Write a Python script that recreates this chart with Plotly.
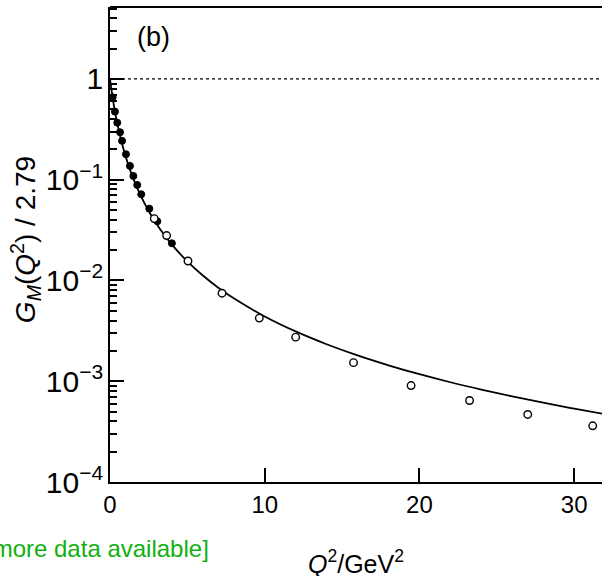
import plotly.graph_objects as go

# Filled points (low Q^2 data)
q2_filled = [0.17, 0.32, 0.47, 0.65, 0.78, 1.03, 1.29, 1.51, 1.76, 2.02, 2.54, 3.06, 4.0]
gm_filled = [0.658, 0.474, 0.368, 0.296, 0.243, 0.179, 0.137, 0.109, 0.0888, 0.0717, 0.0516, 0.0387, 0.0234]

# Open circles (high Q^2 data)
q2_open = [2.86, 3.66, 5.04, 7.24, 9.65, 12.0, 15.74, 19.46, 23.24, 27.0, 31.2]
gm_open = [0.0411, 0.0279, 0.0156, 0.00748, 0.00423, 0.00274, 0.00153, 0.000906, 0.000644, 0.000468, 0.000361]

# Fitted curve
q2_curve = [0, 0.1, 0.2, 0.3, 0.4, 0.5, 0.75, 1.0, 1.25, 1.5, 2.0, 2.5, 3.0, 3.5, 4.0, 5.0, 6.0,
            7.0, 8.0, 10, 12, 14, 16, 18, 20, 22, 24, 26, 28, 30, 32]
gm_curve = [1.0, 0.7684, 0.6087, 0.4942, 0.4091, 0.3443, 0.2365, 0.1724, 0.1312, 0.1032, 0.06864,
            0.04892, 0.03662, 0.02844, 0.02272, 0.01546, 0.01120, 0.008480, 0.006645, 0.004395,
            0.003121, 0.002330, 0.001805, 0.001440, 0.001175, 0.000977, 0.000826, 0.000707,
            0.000612, 0.000535, 0.000471]

ref_x = [0, 32]
ref_y = [1.0, 1.0]

X_RANGE = [0, 31.8]
Y_RANGE = [-4, 0.714]
FONT = "Liberation Sans, Arial, Helvetica, sans-serif"

fig = go.Figure()
fig.add_trace(go.Scatter(x=ref_x, y=ref_y, mode="lines",
                         line=dict(color="black", width=1.3, dash="3px,3px"), showlegend=False))
fig.add_trace(go.Scatter(x=q2_curve, y=gm_curve, mode="lines", line_shape="spline",
                         line=dict(color="black", width=1.8), showlegend=False))
fig.add_trace(go.Scatter(x=q2_filled, y=gm_filled, mode="markers",
                         marker=dict(color="black", size=7, line=dict(color="black", width=1)),
                         showlegend=False))
fig.add_trace(go.Scatter(x=q2_open, y=gm_open, mode="markers",
                         marker=dict(color="white", size=7.5, line=dict(color="black", width=1.4)),
                         showlegend=False))

fig.update_layout(
    width=602, height=576,
    margin=dict(l=110, r=0, t=7, b=94),
    plot_bgcolor="white", paper_bgcolor="white",
    font=dict(family=FONT, size=24, color="black"),
    xaxis=dict(range=X_RANGE, dtick=10, ticks="inside", ticklen=14, tickwidth=2.2,
               tickcolor="#000000", showline=True, linecolor="#000000", linewidth=2,
               mirror=False),
    yaxis=dict(type="log", range=Y_RANGE, dtick=1, exponentformat="power",
               ticks="inside", ticklen=14, tickwidth=2.2, tickcolor="#000000",
               showline=True, linecolor="#000000", linewidth=2,
               minor=dict(dtick="D1", ticks="inside", ticklen=7, tickwidth=1.8,
                          tickcolor="#000000")),
    shapes=[dict(type="line", xref="paper", yref="paper", x0=0, x1=1, y0=1, y1=1,
                 line=dict(color="black", width=2))],
    annotations=[
        dict(text="(b)", xref="paper", yref="paper", x=0.05, y=0.937, xanchor="left",
             yanchor="middle", showarrow=False, font=dict(size=27, family=FONT)),
        dict(text="<i>G<sub>M</sub></i>(<i>Q</i><sup>2</sup>) / 2.79", xref="paper", yref="paper",
             x=-0.172, y=0.51, xanchor="center", yanchor="middle", textangle=-90,
             showarrow=False, font=dict(size=28, family=FONT)),
        dict(text="<i>Q</i><sup>2</sup>/GeV<sup>2</sup>", xref="paper", yref="paper",
             x=0.5, y=-0.168, xanchor="center", yanchor="middle",
             showarrow=False, font=dict(size=25, family=FONT)),
        dict(text="[more data available]", xref="paper", yref="paper", x=0.205, y=-0.139,
             xanchor="right", yanchor="middle", showarrow=False,
             font=dict(size=24, family=FONT, color="#11b011")),
    ],
)

fig.write_html("out.html")
